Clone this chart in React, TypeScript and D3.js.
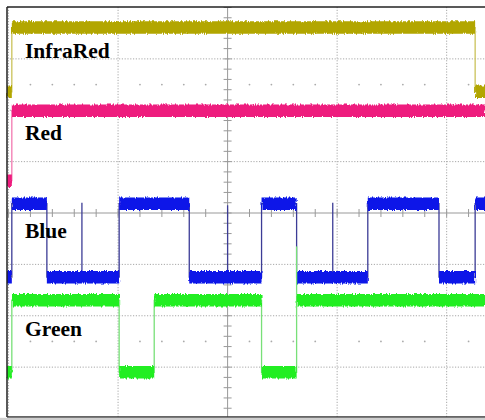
import React from "react";
import * as d3 from "d3";

// time axis in units (10 units per horizontal division), level axis in divisions
const timeDomain: [number, number] = [-20.14, 23.5];
const levelDomain: [number, number] = [-4, 4];

const labels = ["InfraRed", "Red", "Blue", "Green"];
const labelLevels = [3.02, 1.42, -0.48, -2.4];

const infraRedTimes = [-20.14, -19.7, 22.6, 23.5];
const infraRedValues = [2.36, 3.61, 2.36];

const redTimes = [-20.14, -19.7, 23.5];
const redValues = [0.63, 1.99];

const blueTimes = [-20.14, -19.7, -16.5, -9.9, -3.5, 3.1, 6.3, 12.8, 19.3, 22.6, 23.5];
const blueValues = [-1.25, 0.18, -1.25, 0.18, -1.25, 0.18, -1.25, 0.18, -1.25, 0.18];
const blueGlitchTimes = [-13.3, 0, 9.6];
const blueGlitchTops = [0.2, 0.15, 0.2];

const greenTimes = [-20.14, -19.7, -9.9, -6.7, 3.1, 6.3, 23.5];
const greenValues = [-3.1, -1.7, -3.1, -1.7, -3.1, -1.7];
const greenGlitchTimes = [6.3];
const greenGlitchTops = [-0.65];

const W = 485;
const H = 420;
const left = 7;
const top = 7;
const bottom = 417;

const x = d3.scaleLinear().domain(timeDomain).range([left, W]);
const y = d3.scaleLinear().domain(levelDomain).range([bottom + 1.5, top + 0.5]);

type Ch = {
  times: number[];
  values: number[];
  band: string;
  edge: string;
  glitchT?: number[];
  glitchV?: number[];
};

const channels: Ch[] = [
  { times: infraRedTimes, values: infraRedValues, band: "#b2a600", edge: "#cbc25a" },
  { times: redTimes, values: redValues, band: "#ee1a7e", edge: "#f27ab0" },
  { times: blueTimes, values: blueValues, band: "#0a14e8", edge: "#3c3c96", glitchT: blueGlitchTimes, glitchV: blueGlitchTops },
  { times: greenTimes, values: greenValues, band: "#22ee22", edge: "#78e078", glitchT: greenGlitchTimes, glitchV: greenGlitchTops },
];

function stepPath(times: number[], values: number[]) {
  const pts: [number, number][] = [];
  values.forEach((v, i) => {
    pts.push([x(times[i]), y(v)]);
    pts.push([x(times[i + 1]), y(v)]);
  });
  return d3.line()(pts) || "";
}

function bandPath(times: number[], values: number[]) {
  return values
    .map((v, i) => `M${x(times[i])},${y(v)}H${x(times[i + 1])}`)
    .join("");
}

export default function App() {
  const majorX = d3.range(-20, 24, 10).filter((t) => t !== 0);
  const majorY = d3.range(-3, 4, 1).filter((v) => v !== 0);
  const minorX = d3.range(-20, 24, 2);
  const minorY = d3.range(-4, 4.01, 0.2);
  const dotX = minorX.filter((t) => Math.abs(t % 10) > 0.01);

  return (
    <svg
      width={W}
      height={H}
      style={{ position: "absolute", left: 0, top: 0, background: "#fff" }}
    >
      <defs>
        <filter id="noise" filterUnits="userSpaceOnUse" x={0} y={0} width={W} height={H}>
          <feTurbulence type="fractalNoise" baseFrequency="0.9 0.12" numOctaves={2} seed={4} result="t" />
          <feDisplacementMap in="SourceGraphic" in2="t" scale={4} xChannelSelector="R" yChannelSelector="G" />
        </filter>
      </defs>
      <rect x={0} y={0} width={W} height={H} fill="#fff" />
      {/* grid */}
      <g stroke="#a8a8a8" strokeWidth={1} fill="none">
        {majorX.map((t) => (
          <line key={"gx" + t} x1={x(t)} x2={x(t)} y1={top} y2={bottom} strokeDasharray="1.2 1.6" />
        ))}
        {majorY.map((v) => (
          <line key={"gy" + v} x1={left} x2={W} y1={y(v)} y2={y(v)} strokeDasharray="1.2 1.6" />
        ))}
        <line x1={x(0)} x2={x(0)} y1={top} y2={bottom} stroke="#999" />
        <line x1={left} x2={W} y1={y(0)} y2={y(0)} stroke="#999" />
        {minorX.map((t) => (
          <line key={"tx" + t} x1={x(t)} x2={x(t)} y1={y(0) - 4} y2={y(0) + 4} stroke="#999" />
        ))}
        {minorY.map((v) => (
          <line key={"ty" + v} x1={x(0) - 4} x2={x(0) + 4} y1={y(v)} y2={y(v)} stroke="#999" />
        ))}
      </g>
      <g fill="#aaa">
        {[2.5, -2.5].map((v) =>
          dotX.map((t) => <circle key={"d" + v + t} cx={x(t)} cy={y(v)} r={0.9} />)
        )}
      </g>
      {/* traces */}
      {channels.map((c, i) => (
        <g key={"c" + i}>
          <path d={stepPath(c.times, c.values)} fill="none" stroke={c.edge} strokeWidth={1.3} />
          {c.glitchT &&
            c.glitchT.map((t, j) => {
              const base = c.values[d3.bisectRight(c.times, t) - 1];
              return (
                <line
                  key={"g" + j}
                  x1={x(t)}
                  x2={x(t)}
                  y1={y(base)}
                  y2={y(c.glitchV![j])}
                  stroke={c.edge}
                  strokeWidth={1.3}
                />
              );
            })}
          <path
            d={bandPath(c.times, c.values)}
            fill="none"
            stroke={c.band}
            strokeWidth={12.5}
            strokeLinecap="butt"
            filter="url(#noise)"
          />
        </g>
      ))}
      {/* labels */}
      {labels.map((l, i) => (
        <text
          key={l}
          x={25}
          y={y(labelLevels[i])}
          fontFamily="'Liberation Serif', 'Times New Roman', serif"
          fontWeight="bold"
          fontSize={21.5}
          fill="#000"
        >
          {l}
        </text>
      ))}
      {/* frame */}
      <line x1={left} x2={left} y1={top} y2={bottom} stroke="#222" strokeWidth={1.5} />
      <line x1={left} x2={W} y1={top} y2={top} stroke="#222" strokeWidth={1.5} />
      <line x1={left} x2={W} y1={bottom} y2={bottom} stroke="#333" strokeWidth={1.5} />
      <rect x={0} y={bottom + 0.8} width={W} height={H - bottom} fill="#cfcfcf" />
    </svg>
  );
}
